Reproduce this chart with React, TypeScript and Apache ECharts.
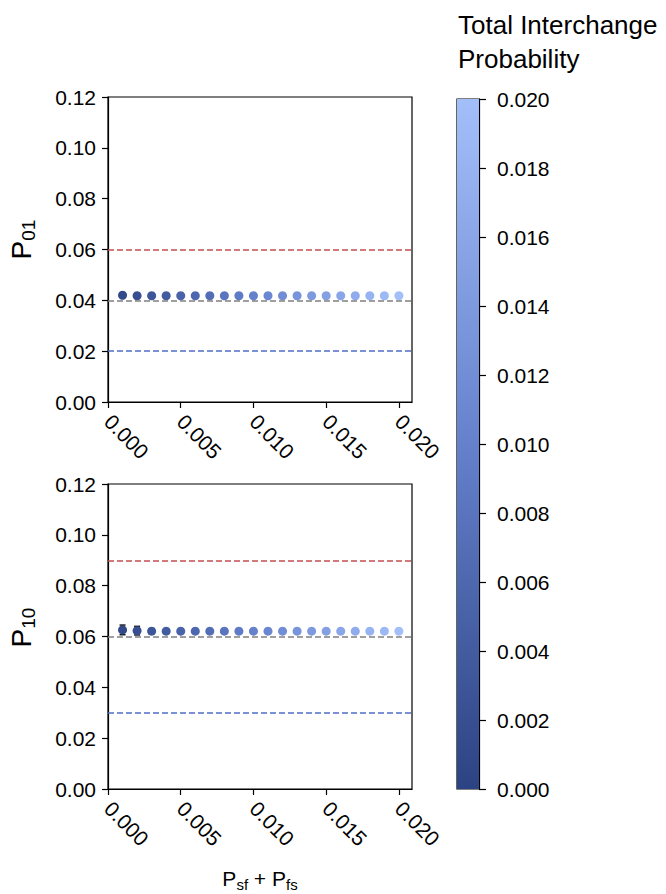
import React, { useEffect, useRef } from "react";
import * as echarts from "echarts";

// Total interchange probability (P_sf + P_fs) for each run
const interchange = [
  0.001, 0.002, 0.003, 0.004, 0.005, 0.006, 0.007, 0.008, 0.009, 0.01,
  0.011, 0.012, 0.013, 0.014, 0.015, 0.016, 0.017, 0.018, 0.019, 0.02,
];

// Estimated P01 and its uncertainty
const p01Mean = [
  0.042, 0.0418, 0.0418, 0.0418, 0.0418, 0.0418, 0.0418, 0.0418, 0.0418, 0.0418,
  0.0418, 0.0418, 0.0418, 0.0418, 0.0418, 0.0418, 0.0418, 0.0418, 0.0418, 0.0418,
];
const p01Err = [
  0.0008, 0.0005, 0.0004, 0.0004, 0.0003, 0.0003, 0.0003, 0.0003, 0.0003, 0.0003,
  0.0003, 0.0003, 0.0003, 0.0003, 0.0003, 0.0003, 0.0003, 0.0003, 0.0003, 0.0003,
];

// Estimated P10 and its uncertainty
const p10Mean = [
  0.0626, 0.0623, 0.0621, 0.0621, 0.0621, 0.0621, 0.0621, 0.0621, 0.0621, 0.0621,
  0.0621, 0.0621, 0.0621, 0.0621, 0.0621, 0.0621, 0.0621, 0.0621, 0.0621, 0.0621,
];
const p10Err = [
  0.0019, 0.0017, 0.001, 0.0008, 0.0007, 0.0006, 0.0005, 0.0005, 0.0005, 0.0004,
  0.0004, 0.0004, 0.0004, 0.0004, 0.0004, 0.0004, 0.0004, 0.0004, 0.0004, 0.0004,
];

// Reference levels: upper bound, true value, lower bound
const p01Refs = [0.06, 0.04, 0.02];
const p10Refs = [0.09, 0.06, 0.03];

const xTicks = [0, 0.005, 0.01, 0.015, 0.02];
const colorMax = 0.02;

const FONT = "Liberation Sans, Arial, Helvetica, sans-serif";
const CMAP = ["#2c4383", "#6581cc", "#a3bffa"];
const REF_COLORS = ["#c44e52", "#808080", "#4f6fc4"];

function errorBarSeries(gridIdx: number, ys: number[], errs: number[]) {
  return {
    type: "custom",
    xAxisIndex: gridIdx,
    yAxisIndex: gridIdx,
    z: 1,
    silent: true,
    data: interchange.map((x, i) => [x, ys[i], errs[i]]),
    renderItem: (_params: any, api: any) => {
      const x = api.value(0);
      const y = api.value(1);
      const e = api.value(2);
      const top = api.coord([x, y + e]);
      const bot = api.coord([x, y - e]);
      const style = { stroke: "#1a1a1a", lineWidth: 1.5 };
      return {
        type: "group",
        children: [
          { type: "line", shape: { x1: top[0], y1: top[1], x2: bot[0], y2: bot[1] }, style },
          { type: "line", shape: { x1: top[0] - 3, y1: top[1], x2: top[0] + 3, y2: top[1] }, style },
          { type: "line", shape: { x1: bot[0] - 3, y1: bot[1], x2: bot[0] + 3, y2: bot[1] }, style },
        ],
      };
    },
  };
}

function pointSeries(gridIdx: number, ys: number[]) {
  return {
    type: "scatter",
    xAxisIndex: gridIdx,
    yAxisIndex: gridIdx,
    z: 3,
    symbolSize: 9,
    itemStyle: { opacity: 1 },
    data: interchange.map((x, i) => [x, ys[i]]),
  };
}

function refSeries(gridIdx: number, refs: number[]) {
  return {
    type: "line",
    xAxisIndex: gridIdx,
    yAxisIndex: gridIdx,
    data: [],
    z: 2,
    markLine: {
      silent: true,
      symbol: "none",
      label: { show: false },
      data: refs.map((v, i) => ({
        yAxis: v,
        lineStyle: { color: REF_COLORS[i], width: 1.5, type: [6, 3] },
      })),
    },
  };
}

function xAxisFor(gridIdx: number, withName: boolean) {
  return {
    type: "value",
    gridIndex: gridIdx,
    min: 0,
    max: 0.0209,
    splitLine: { show: false },
    axisLine: { show: true, onZero: false, lineStyle: { color: "#000", width: 1.2 } },
    axisTick: {
      show: true,
      length: 6,
      customValues: xTicks,
      lineStyle: { color: "#000", width: 1.2 },
    },
    axisLabel: {
      customValues: xTicks,
      rotate: -45,
      margin: 16,
      fontSize: 21,
      color: "#000",
      fontFamily: FONT,
      formatter: (v: number) => v.toFixed(3),
    },
    name: withName ? "{p|P}{s|sf}{p| + P}{s|fs}" : "",
    nameLocation: "middle",
    nameGap: 76,
    nameTextStyle: {
      rich: {
        p: { fontSize: 21, fontFamily: FONT, color: "#000" },
        s: { fontSize: 15, fontFamily: FONT, color: "#000", padding: [12, 0, 0, 0] },
      },
    },
  };
}

function yAxisFor(gridIdx: number, sub: string, shift: number) {
  return {
    type: "value",
    gridIndex: gridIdx,
    min: 0,
    max: 0.12,
    interval: 0.02,
    splitLine: { show: false },
    axisLine: { show: true, lineStyle: { color: "#000", width: 1.2 } },
    axisTick: { show: true, length: 6, lineStyle: { color: "#000", width: 1.2 } },
    axisLabel: {
      margin: 12,
      fontSize: 21,
      color: "#000",
      fontFamily: FONT,
      formatter: (v: number) => v.toFixed(2),
    },
    name: `{p|P}{s|${sub}}`,
    nameLocation: "middle",
    nameRotate: 90,
    nameGap: 70,
    nameTextStyle: {
      padding: [0, 0, 0, shift],
      rich: {
        p: { fontSize: 28, fontFamily: FONT, color: "#000" },
        s: { fontSize: 19, fontFamily: FONT, color: "#000", padding: [14, 0, 0, 0] },
      },
    },
  };
}

export default function App() {
  const ref = useRef<HTMLDivElement>(null);

  useEffect(() => {
    if (!ref.current) return;
    const chart = echarts.init(ref.current, null, { renderer: "svg" });
    const gridBox = { show: true, borderColor: "#000", borderWidth: 1.2, backgroundColor: "#fff" };

    chart.setOption({
      animation: false,
      backgroundColor: "#fff",
      title: {
        text: "Total Interchange\nProbability",
        left: 453,
        top: 3,
        textStyle: {
          fontSize: 26,
          lineHeight: 34,
          fontWeight: "normal",
          fontFamily: FONT,
          color: "#000",
        },
      },
      grid: [
        { left: 108, top: 97, width: 304, height: 305, ...gridBox },
        { left: 108, top: 484, width: 304, height: 305, ...gridBox },
        { left: 457, top: 99, width: 22, height: 690, ...gridBox },
      ],
      xAxis: [
        xAxisFor(0, false),
        xAxisFor(1, true),
        {
          type: "category",
          gridIndex: 2,
          data: [""],
          axisLine: { show: false },
          axisTick: { show: false },
          axisLabel: { show: false },
        },
      ],
      yAxis: [
        yAxisFor(0, "01", 20),
        yAxisFor(1, "10", 18),
        {
          type: "value",
          gridIndex: 2,
          position: "right",
          min: 0,
          max: colorMax,
          interval: 0.002,
          splitLine: { show: false },
          axisLine: { show: true, lineStyle: { color: "#000", width: 1.2 } },
          axisTick: { show: true, length: 7, lineStyle: { color: "#000", width: 1.2 } },
          axisLabel: {
            margin: 18,
            fontSize: 21,
            color: "#000",
            fontFamily: FONT,
            formatter: (v: number) => v.toFixed(3),
          },
        },
      ],
      visualMap: {
        type: "continuous",
        show: false,
        min: 0,
        max: colorMax,
        dimension: 0,
        seriesIndex: [2, 5],
        inRange: { color: CMAP },
      },
      series: [
        refSeries(0, p01Refs),
        errorBarSeries(0, p01Mean, p01Err),
        pointSeries(0, p01Mean),
        refSeries(1, p10Refs),
        errorBarSeries(1, p10Mean, p10Err),
        pointSeries(1, p10Mean),
        {
          type: "bar",
          xAxisIndex: 2,
          yAxisIndex: 2,
          barWidth: "100%",
          silent: true,
          data: [colorMax],
          itemStyle: {
            color: new echarts.graphic.LinearGradient(0, 1, 0, 0, [
              { offset: 0, color: CMAP[0] },
              { offset: 0.5, color: CMAP[1] },
              { offset: 1, color: CMAP[2] },
            ]),
          },
        },
      ],
    });

    return () => chart.dispose();
  }, []);

  return (
    <div
      ref={ref}
      style={{ position: "fixed", left: 0, top: 0, width: 666, height: 894 }}
    />
  );
}
